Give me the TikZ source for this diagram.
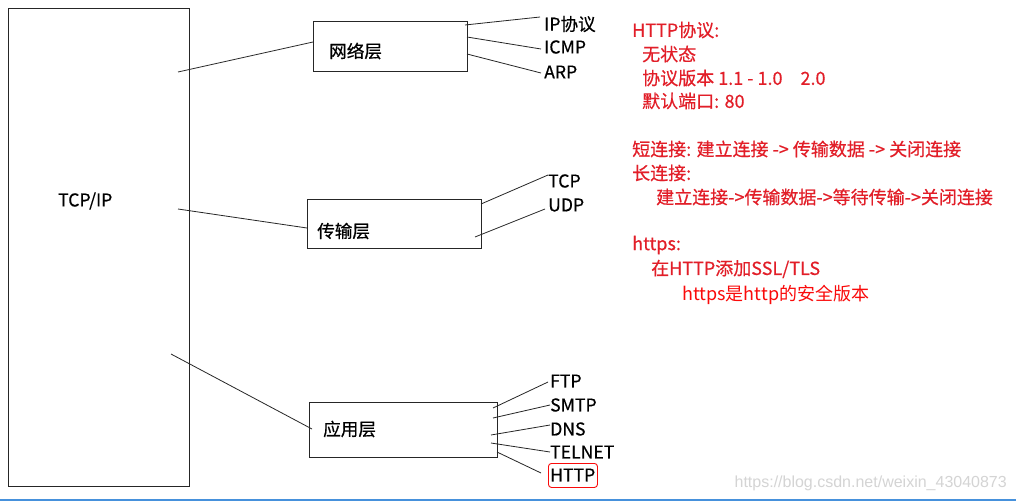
\documentclass[tikz,border=0pt]{standalone}
\usepackage{fontspec}
\setmainfont{Noto Sans CJK SC}
\newfontfamily\notefont[FakeBold=0.5]{Noto Sans CJK SC}
\newfontfamily\wmfont{Liberation Sans}
\usetikzlibrary{calc}
\definecolor{txtred}{RGB}{226,30,40}
\definecolor{brightred}{RGB}{250,10,10}
\definecolor{barblue}{RGB}{70,145,220}
\definecolor{wmgray}{RGB}{212,212,212}
\tikzset{
  layerbox/.style={draw=black!85, line width=0.9pt, anchor=north west, inner sep=0},
  lbl/.style={anchor=west, inner sep=0, font=\notefont\fontsize{17.6}{20}\selectfont},
  conn/.style={draw=black!85, line width=0.8pt},
  note/.style={anchor=west, inner sep=0, text=txtred, font=\notefont\fontsize{18}{20}\selectfont},
}
\begin{document}
\begin{tikzpicture}[x=1pt,y=-1pt]
\useasboundingbox (0,0) rectangle (1016,501);
\fill[white] (0,0) rectangle (1016,501);
% main box
\node[layerbox, minimum width=181, minimum height=478] (stack) at (8,8) {};
\node[lbl] (tcpiplbl) at (58,201) {TCP/IP};
% layer boxes
\node[layerbox, minimum width=154, minimum height=50] (net) at (313,21) {};
\node[lbl] (netlbl) at (329,51) {网络层};
\node[layerbox, minimum width=174, minimum height=49] (trans) at (307,199) {};
\node[lbl] (translbl) at (317,231) {传输层};
\node[layerbox, minimum width=188, minimum height=55] (app) at (309,402) {};
\node[lbl] (applbl) at (323,429) {应用层};
% stack connectors
\coordinate (s1) at (178,72);
\coordinate (s2) at (178,209);
\coordinate (s3) at (171,354);
\draw[conn] (s1) -- (net.west |- 0,42);
\draw[conn] (s2) -- (trans.west |- 0,228);
\draw[conn] (s3) -- (312,429) coordinate (a0);
% leaves network
\node[lbl] (ip) at (544,24) {IP协议};
\node[lbl] (icmp) at (544,47) {ICMP};
\node[lbl] (arp) at (544,72) {ARP};
\coordinate (n1) at (465,25); \coordinate (n1e) at (540,17);
\coordinate (n2) at (467,37); \coordinate (n2e) at (541,49);
\coordinate (n3) at (467,54); \coordinate (n3e) at (541,73);
\draw[conn] (n1) -- (n1e);
\draw[conn] (n2) -- (n2e);
\draw[conn] (n3) -- (n3e);
% leaves transport
\node[lbl] (tcp) at (548,181) {TCP};
\node[lbl] (udp) at (548,205) {UDP};
\coordinate (t1) at (481,204); \coordinate (t1e) at (548,175);
\coordinate (t2) at (475,237); \coordinate (t2e) at (545,209);
\draw[conn] (t1) -- (t1e);
\draw[conn] (t2) -- (t2e);
% leaves application
\node[lbl] (ftp) at (550,381) {FTP};
\node[lbl] (smtp) at (550,405) {SMTP};
\node[lbl] (dns) at (550,429) {DNS};
\node[lbl] (telnet) at (550,452) {TELNET};
\node[lbl] (http) at (550,475) {HTTP};
\node[draw=brightred, line width=0.9pt, rounded corners=3pt, minimum width=49, minimum height=24, anchor=north west, inner sep=0] (httpbox) at (548,463) {};
\coordinate (p1) at (493,408); \coordinate (p1e) at (548,382);
\coordinate (p2) at (493,418); \coordinate (p2e) at (550,405);
\coordinate (p3) at (491,435); \coordinate (p3e) at (550,425);
\coordinate (p4) at (491,443); \coordinate (p4e) at (550,452);
\coordinate (p5) at (497,452); \coordinate (p5e) at (541,473);
\draw[conn] (p1) -- (p1e);
\draw[conn] (p2) -- (p2e);
\draw[conn] (p3) -- (p3e);
\draw[conn] (p4) -- (p4e);
\draw[conn] (p5) -- (p5e);
% notes
\node[note] (h1) at (632,30) {HTTP协议:};
\node[note] (h2) at (642,54) {无状态};
\node[note] (h3) at (642,78) {协议版本 1.1 - 1.0\hspace{1em}2.0};
\node[note] (h4) at (642,101) {默认端口: 80};
\node[note] (c1) at (632,149) {短连接: 建立连接 -> 传输数据 -> 关闭连接};
\node[note] (c2) at (632,173) {长连接:};
\node[note] (c3) at (656,197) {建立连接->传输数据->等待传输->关闭连接};
\node[note] (s1n) at (632,245) {https:};
\node[note] (s2n) at (651,269) {在HTTP添加SSL/TLS};
\node[note, text=brightred, font=\fontsize{18}{20}\selectfont] (s3n) at (682,295) {https是http的安全版本};
% watermark
\node[anchor=east, inner sep=0, text=wmgray, font=\wmfont\fontsize{16}{18}\selectfont] (wm) at (1007,483) {https://blog.csdn.net/weixin\_43040873};
% bottom bar
\draw[barblue, line width=2pt] (0,500) -- (1016,500);
\end{tikzpicture}
\end{document}
